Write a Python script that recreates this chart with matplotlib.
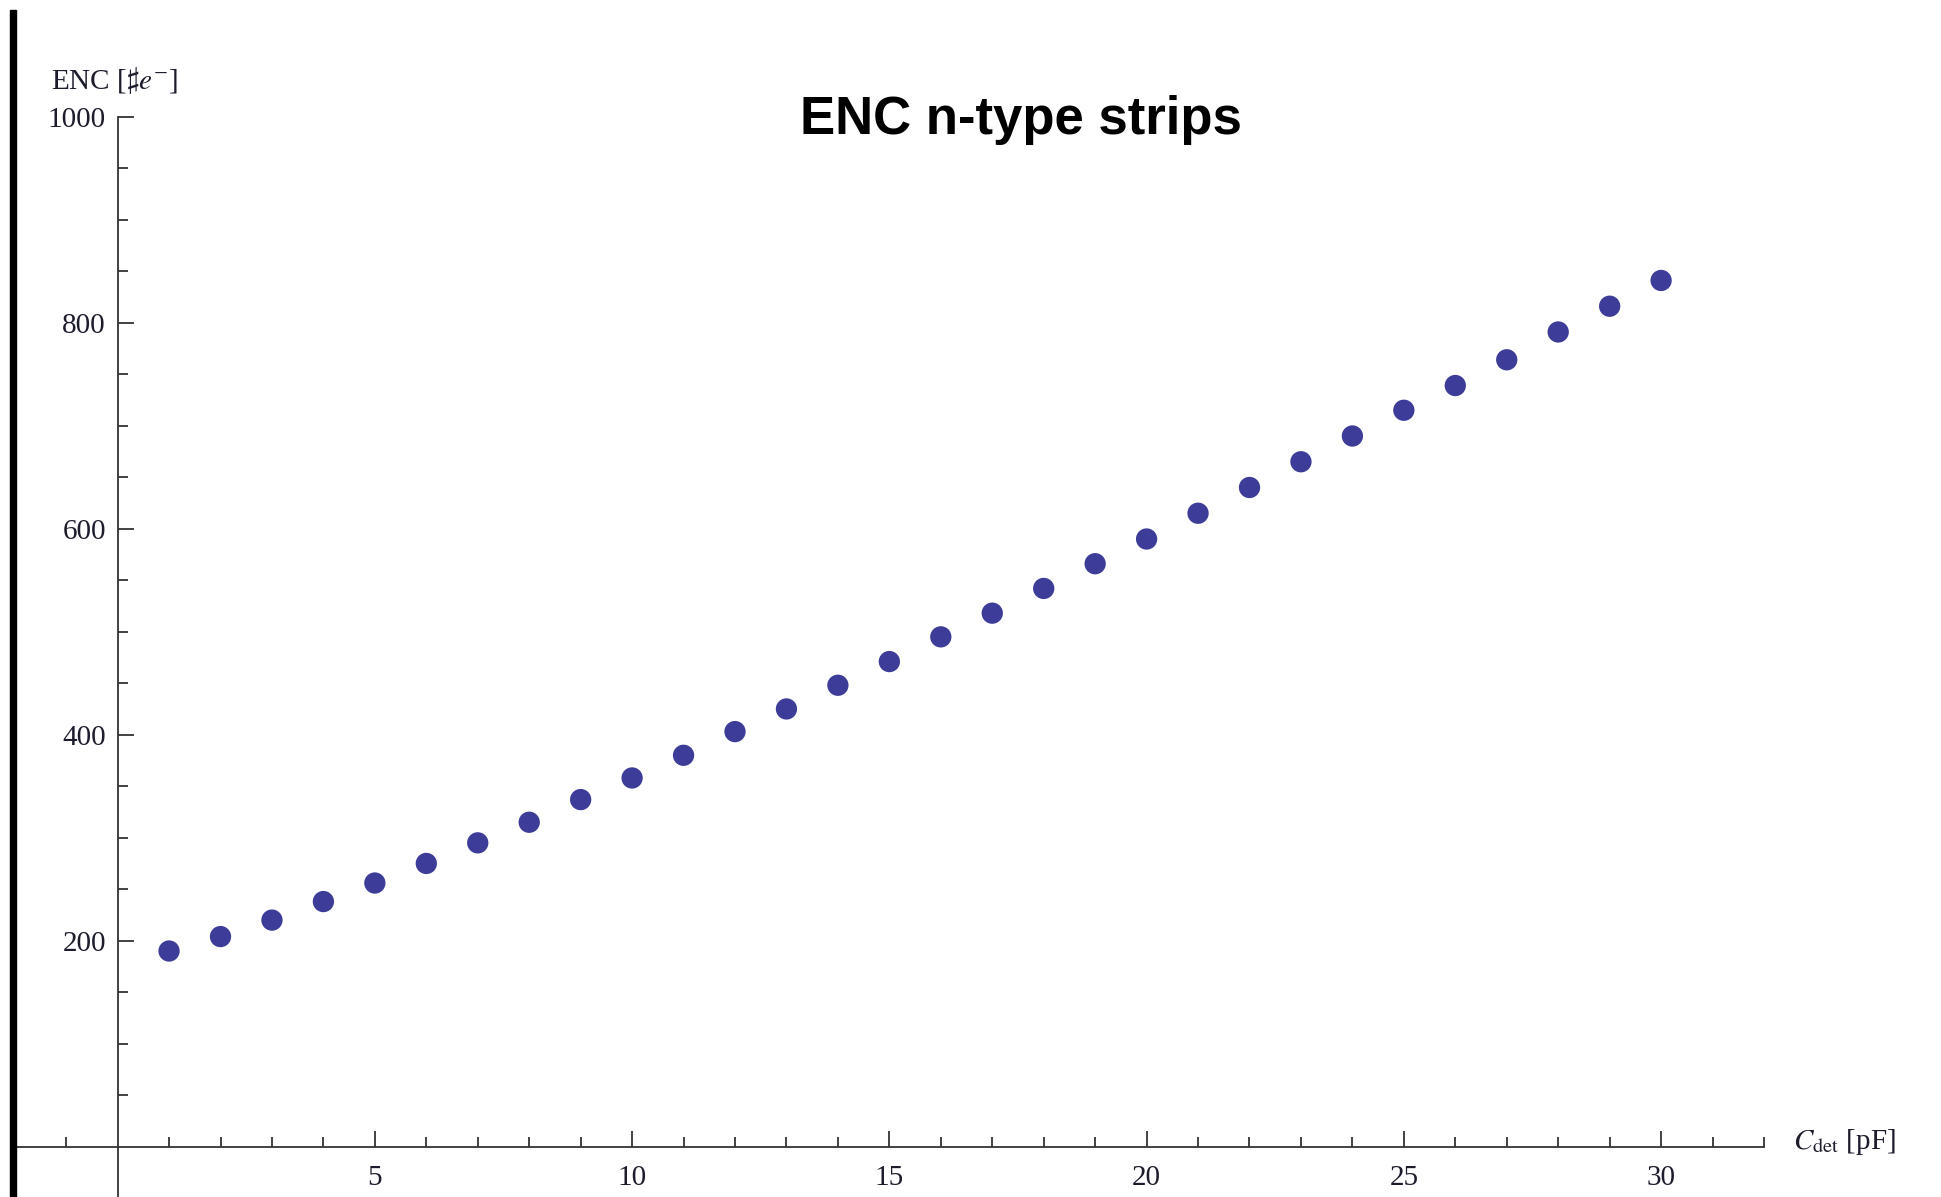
import matplotlib
matplotlib.use("Agg")
import matplotlib.pyplot as plt
from matplotlib.patches import Rectangle
from matplotlib.ticker import FixedLocator

# data
c_det = [1, 2, 3, 4, 5, 6, 7, 8, 9, 10, 11, 12, 13, 14, 15,
         16, 17, 18, 19, 20, 21, 22, 23, 24, 25, 26, 27, 28, 29, 30]
enc = [190, 204, 220, 238, 256, 275, 295, 315, 337, 358, 380, 403, 425, 448, 471,
       495, 518, 542, 566, 590, 615, 640, 665, 690, 715, 739, 764, 791, 816, 841]
x_ticks = [5, 10, 15, 20, 25, 30]
y_ticks = [200, 400, 600, 800, 1000]

plt.rcParams['mathtext.fontset'] = 'stix'
serif = ['Liberation Serif', 'DejaVu Serif']
txt_col = '#1c1c2c'

W, H, DPI = 1941, 1197, 100
fig = plt.figure(figsize=(W / DPI, H / DPI), dpi=DPI)
ax = fig.add_axes([0, 0, 1, 1])

# pixel mapping of the reference: x0 at 117.6px, 51.45 px/unit; y0 at 1146.7px, 1.03 px/unit
x0, sx = 117.6, 51.45
y0, sy = 1146.7, 1.030
ax.set_xlim(-x0 / sx, (W - x0) / sx)
ax.set_ylim((y0 - H) / sy, y0 / sy)

ax.scatter(c_det, enc, s=235, color=(0.24, 0.24, 0.6), edgecolors='none', zorder=3)

for s in ['top', 'right']:
    ax.spines[s].set_visible(False)
ax.spines['left'].set_position(('data', 0))
ax.spines['bottom'].set_position(('data', 0))
ax.spines['left'].set_bounds((y0 - H) / sy, 1000)
ax.spines['bottom'].set_bounds(-2.05, 32.0)
for s in ['left', 'bottom']:
    ax.spines[s].set_linewidth(1.3)
    ax.spines[s].set_color('#333333')

ax.xaxis.set_major_locator(FixedLocator(x_ticks))
ax.xaxis.set_minor_locator(FixedLocator([v for v in range(-2, 33) if v not in x_ticks and v != 0]))
ax.yaxis.set_major_locator(FixedLocator(y_ticks))
ax.yaxis.set_minor_locator(FixedLocator([v for v in range(-50, 1000, 50) if v not in y_ticks and v != 0]))

ax.tick_params(which='both', direction='in', color='#333333', width=1.3)
ax.tick_params(which='major', length=11.5)
ax.tick_params(which='minor', length=7)
ax.tick_params(axis='x', which='major', pad=13, labelsize=21, labelcolor=txt_col)
ax.tick_params(axis='y', which='major', labelsize=21, labelcolor=txt_col)
for lab in ax.get_xticklabels() + ax.get_yticklabels():
    lab.set_family(serif)
# y labels sit left of the axis even though ticks point right
ax.yaxis.set_tick_params(which='major', pad=-11.5 + 20)

ax.set_facecolor('none')

fig.text(51 / W, 1 - 80 / H, r'ENC [$\sharp e^{-}$]', fontsize=21, family=serif,
         color=txt_col, ha='left', va='center')
fig.text(1793 / W, 1 - 1142 / H, r'$C_{\rm det}$ [pF]', fontsize=21, family=serif,
         color=txt_col, ha='left', va='center')
fig.text(1021 / W, 1 - 120 / H, 'ENC n-type strips', fontsize=38, fontweight='bold',
         family=['Liberation Sans', 'DejaVu Sans'], color='black', ha='center', va='center')

# thick black bar at the left edge
fig.patches.append(Rectangle((10 / W, 0), 6 / W, (H - 10) / H, transform=fig.transFigure,
                             color='black', zorder=5))

fig.savefig('out.png', dpi=DPI)
